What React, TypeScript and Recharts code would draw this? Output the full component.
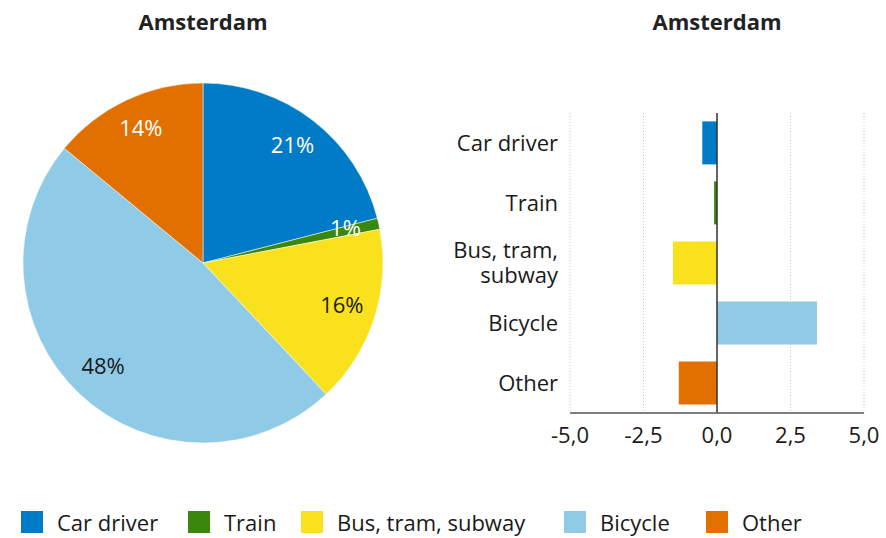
import React from 'react';
import {
  PieChart,
  Pie,
  Cell,
  BarChart,
  Bar,
  XAxis,
  YAxis,
  CartesianGrid,
  ReferenceLine,
} from 'recharts';

const categories = ['Car driver', 'Train', 'Bus, tram, subway', 'Bicycle', 'Other'];
const axisLabels = [['Car driver'], ['Train'], ['Bus, tram,', 'subway'], ['Bicycle'], ['Other']];
const shares = [21, 1, 16, 48, 14];
const changes = [-0.5, -0.1, -1.5, 3.4, -1.3];
const xTicks = [-5, -2.5, 0, 2.5, 5];
const colors = ['#007bc7', '#39870c', '#f9e11e', '#8fcae7', '#e17000'];
const labelColors = ['#ffffff', '#ffffff', '#1a1a1a', '#1a1a1a', '#ffffff'];

const FONT = '"Open Sans", sans-serif';
const TEXT = '#1a1a1a';
const RADIAN = Math.PI / 180;
// legend item x positions, as in the original layout
const legendLeft = [21, 188, 301, 564, 706];

const pieData = categories.map((name, i) => ({ name, value: shares[i] }));
const barData = categories.map((name, i) => ({ name, value: changes[i] }));

const renderPieLabel = (props: any) => {
  const { cx, cy, midAngle, index, value } = props;
  const r = 146;
  const x = cx + r * Math.cos(-midAngle * RADIAN);
  const y = cy + r * Math.sin(-midAngle * RADIAN) - 4;
  return (
    <text
      x={x}
      y={y}
      fill={labelColors[index]}
      textAnchor="middle"
      dominantBaseline="central"
      fontSize={22}
      fontFamily={FONT}
    >
      {value}%
    </text>
  );
};

const CategoryTick = (props: any) => {
  const { x, y, index } = props;
  const lines = axisLabels[index] || [];
  const lh = 25;
  return (
    <text x={x} y={y} textAnchor="end" fill={TEXT} fontSize={22} fontFamily={FONT}>
      {lines.map((line, i) => (
        <tspan key={i} x={x} y={y + (i - (lines.length - 1) / 2) * lh} dy="0.35em">
          {line}
        </tspan>
      ))}
    </text>
  );
};

const titleStyle: React.CSSProperties = {
  position: 'absolute',
  top: 6,
  width: 300,
  textAlign: 'center',
  fontFamily: FONT,
  fontWeight: 700,
  fontSize: 22,
  color: '#222',
};

export default function App() {
  return (
    <div
      style={{
        position: 'absolute',
        left: 0,
        top: 0,
        width: 886,
        height: 538,
        background: '#fff',
        fontFamily: FONT,
        overflow: 'hidden',
      }}
    >
      <div style={{ ...titleStyle, left: 203 - 150 }}>Amsterdam</div>
      <div style={{ ...titleStyle, left: 717 - 150 }}>Amsterdam</div>

      <div style={{ position: 'absolute', left: 0, top: 0 }}>
        <PieChart width={420} height={470} margin={{ top: 0, right: 0, bottom: 0, left: 0 }}>
          <Pie
            data={pieData}
            dataKey="value"
            cx={203}
            cy={263}
            outerRadius={180}
            startAngle={90}
            endAngle={-270}
            stroke="#ffffff"
            strokeWidth={0.5}
            label={renderPieLabel}
            labelLine={false}
            isAnimationActive={false}
          >
            {pieData.map((d, i) => (
              <Cell key={d.name} fill={colors[i]} />
            ))}
          </Pie>
        </PieChart>
      </div>

      <div style={{ position: 'absolute', left: 440, top: 90 }}>
        <BarChart
          width={446}
          height={360}
          data={barData}
          layout="vertical"
          margin={{ top: 23, right: 22, bottom: 7, left: 0 }}
          barCategoryGap="14%"
        >
          <CartesianGrid horizontal={false} stroke="#c8c8c8" strokeDasharray="1 2" />
          <XAxis
            type="number"
            domain={[-5, 5]}
            ticks={xTicks}
            interval={0}
            height={30}
            tickFormatter={(v: number) => v.toFixed(1).replace('.', ',')}
            axisLine={{ stroke: '#555', strokeWidth: 1.5 }}
            tickLine={false}
            tickSize={0}
            tickMargin={14}
            tick={{ fill: TEXT, fontSize: 22, fontFamily: FONT }}
          />
          <YAxis
            type="category"
            dataKey="name"
            width={130}
            axisLine={false}
            tickLine={false}
            tickSize={0}
            tickMargin={12}
            interval={0}
            tick={<CategoryTick />}
          />
          <Bar dataKey="value" isAnimationActive={false}>
            {barData.map((d, i) => (
              <Cell key={d.name} fill={colors[i]} />
            ))}
          </Bar>
          <ReferenceLine x={0} stroke="#333" strokeWidth={1.5} />
        </BarChart>
      </div>

      {categories.map((name, i) => (
        <div
          key={name}
          style={{
            position: 'absolute',
            left: legendLeft[i],
            top: 511,
            height: 22,
            display: 'flex',
            alignItems: 'center',
            whiteSpace: 'nowrap',
          }}
        >
          <div style={{ width: 22, height: 22, background: colors[i], marginRight: 14 }} />
          <span style={{ fontSize: 22, color: TEXT, lineHeight: '22px' }}>{name}</span>
        </div>
      ))}
    </div>
  );
}
